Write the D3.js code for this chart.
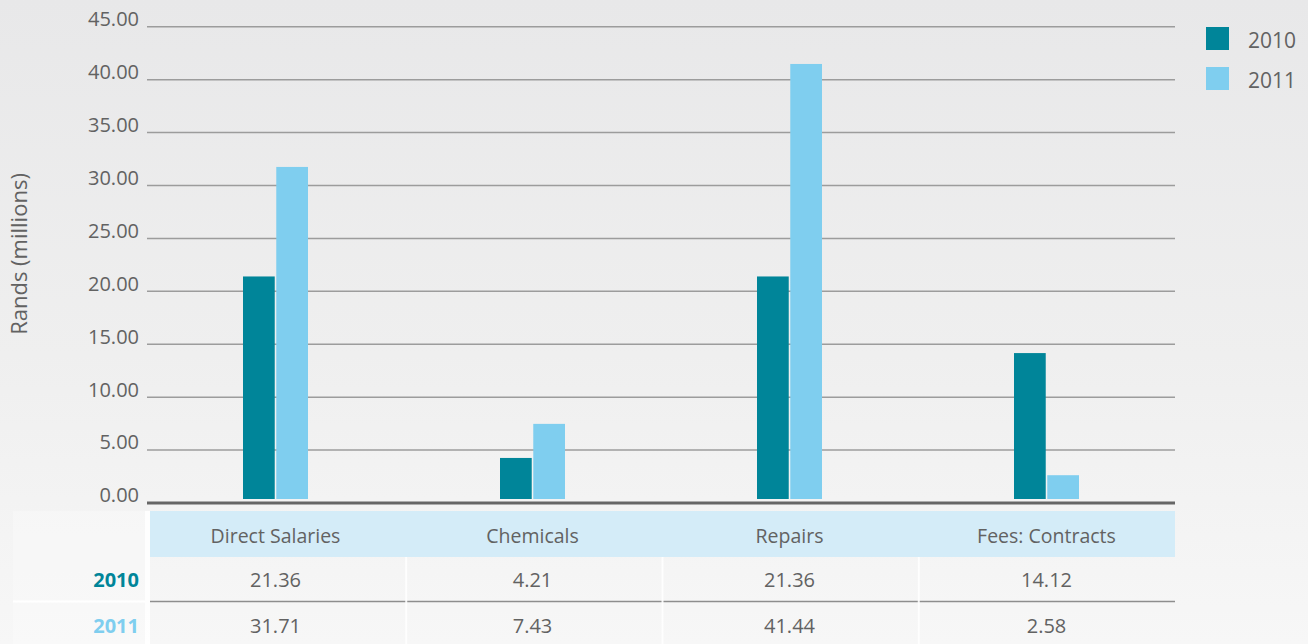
<!DOCTYPE html>
<html>
<head>
<meta charset="utf-8">
<script src="https://cdn.jsdelivr.net/npm/d3@7"></script>
<style>
  html, body { margin: 0; padding: 0; background: #f2f2f2; }
  svg { display: block; }
  text { font-family: "Open Sans", "Noto Sans", sans-serif; }
</style>
</head>
<body>
<svg id="chart" width="1308" height="644"></svg>
<script>
// Expenditure by category, Rands (millions)
const categories = ["Direct Salaries", "Chemicals", "Repairs", "Fees: Contracts"];
const years = ["2010", "2011"];
const values2010 = [21.36, 4.21, 21.36, 14.12];
const values2011 = [31.71, 7.43, 41.44, 2.58];
const yTicks = [0, 5, 10, 15, 20, 25, 30, 35, 40, 45];

const colors = { "2010": "#008599", "2011": "#7fceef" };
const textColor = "#626262";

const W = 1308, H = 644;
const svg = d3.select("#chart");

// Background: soft grey wash, lighter towards the bottom
const defs = svg.append("defs");
const bg = defs.append("linearGradient").attr("id", "bg").attr("x1", 0).attr("y1", 0).attr("x2", 0).attr("y2", 1);
bg.append("stop").attr("offset", "0%").attr("stop-color", "#e8e8e9");
bg.append("stop").attr("offset", "55%").attr("stop-color", "#efefef");
bg.append("stop").attr("offset", "100%").attr("stop-color", "#f7f7f7");
svg.append("rect").attr("width", W).attr("height", H).attr("fill", "url(#bg)");

const plot = { left: 147, right: 1175, top: 26.3, bottom: 502.5 };

const x = d3.scaleBand().domain(categories).range([plot.left, plot.right]).paddingInner(0).paddingOuter(0);
const y = d3.scaleLinear().domain([0, 45]).range([plot.bottom, plot.top]);

const barW = 31, barGap = 3;
const xs = d3.scaleBand().domain(years).range([-(barW + barGap / 2), barW + barGap / 2]).paddingInner(barGap / (2 * barW + barGap));

// Horizontal gridlines and value labels
const yAxis = d3.axisLeft(y).tickValues(yTicks).tickSize(-(plot.right - plot.left)).tickFormat(d3.format(".2f"));
const gy = svg.append("g").attr("transform", `translate(${plot.left},0)`).call(yAxis);
gy.select(".domain").remove();
gy.selectAll(".tick line")
  .attr("stroke", d => d === 0 ? "#666" : "#9c9c9c")
  .attr("stroke-width", d => d === 0 ? 3 : 1.5);
gy.selectAll(".tick text")
  .attr("x", -8)
  .attr("dy", "0.32em")
  .attr("fill", textColor)
  .attr("font-size", 20)
  .attr("font-weight", 400)
  .attr("font-family", "'Open Sans', 'Noto Sans', sans-serif")
  .attr("transform", "translate(0,-7)");

// Axis title
svg.append("text")
  .attr("transform", `translate(27,${254}) rotate(-90)`)
  .attr("text-anchor", "middle")
  .attr("fill", textColor)
  .attr("font-size", 22)
  .attr("font-weight", 400)
  .text("Rands (millions)");

// Bars
const barBottom = plot.bottom - 3.5;
const series = [
  { year: "2010", values: values2010 },
  { year: "2011", values: values2011 }
];
series.forEach(s => {
  svg.append("g").selectAll("rect")
    .data(categories.map((c, i) => ({ c, v: s.values[i] })))
    .join("rect")
    .attr("x", d => x(d.c) + x.bandwidth() / 2 + xs(s.year))
    .attr("width", xs.bandwidth())
    .attr("y", d => y(d.v))
    .attr("height", d => barBottom - y(d.v))
    .attr("fill", colors[s.year]);
});

// Legend
const legend = svg.append("g").attr("transform", "translate(1206,27)");
years.forEach((yr, i) => {
  const g = legend.append("g").attr("transform", `translate(0,${i * 40})`);
  g.append("rect").attr("width", 23).attr("height", 23).attr("fill", colors[yr]);
  g.append("text").attr("x", 42).attr("y", 20.5)
    .attr("fill", textColor).attr("font-size", 21).attr("font-weight", 400).text(yr);
});

// Data table under the chart
const table = { left: 150, right: 1175, headTop: 511, headBottom: 557, row1Bottom: 601.5 };
svg.append("rect")
  .attr("x", table.left).attr("y", table.headTop)
  .attr("width", table.right - table.left).attr("height", table.headBottom - table.headTop)
  .attr("fill", "#d4ecf8");

// faint lighter panel for row labels
svg.append("rect").attr("x", 13).attr("y", table.headTop).attr("width", 132).attr("height", H - table.headTop)
  .attr("fill", "#ffffff").attr("opacity", 0.25);
svg.append("rect").attr("x", 145).attr("y", table.headTop).attr("width", 5).attr("height", H - table.headTop)
  .attr("fill", "#ffffff").attr("opacity", 0.9);
svg.append("line").attr("x1", 13).attr("x2", 145).attr("y1", table.row1Bottom).attr("y2", table.row1Bottom)
  .attr("stroke", "#ffffff").attr("stroke-width", 2);

// row separator
svg.append("line").attr("x1", table.left).attr("x2", table.right)
  .attr("y1", table.row1Bottom).attr("y2", table.row1Bottom)
  .attr("stroke", "#8e8e8e").attr("stroke-width", 1.5);

// column separators
const colW = (table.right - table.left) / categories.length;
svg.append("g").selectAll("line")
  .data(d3.range(1, categories.length))
  .join("line")
  .attr("x1", i => table.left + i * colW).attr("x2", i => table.left + i * colW)
  .attr("y1", table.headBottom).attr("y2", H)
  .attr("stroke", "#ffffff").attr("stroke-width", 2).attr("opacity", 0.9);

// header labels
svg.append("g").selectAll("text")
  .data(categories)
  .join("text")
  .attr("x", d => x(d) + x.bandwidth() / 2)
  .attr("y", 542.5)
  .attr("text-anchor", "middle")
  .attr("fill", textColor).attr("font-size", 19.5).attr("font-weight", 400)
  .text(d => d);

// value rows
const rowBaselines = { "2010": 586.5, "2011": 633 };
series.forEach(s => {
  svg.append("text")
    .attr("x", 139).attr("y", rowBaselines[s.year])
    .attr("text-anchor", "end")
    .attr("fill", colors[s.year]).attr("font-size", 20).attr("font-weight", 700)
    .text(s.year);
  svg.append("g").selectAll("text")
    .data(categories.map((c, i) => ({ c, v: s.values[i] })))
    .join("text")
    .attr("x", d => x(d.c) + x.bandwidth() / 2)
    .attr("y", rowBaselines[s.year])
    .attr("text-anchor", "middle")
    .attr("fill", textColor).attr("font-size", 20).attr("font-weight", 400)
    .text(d => d3.format(".2f")(d.v));
});
</script>
</body>
</html>
